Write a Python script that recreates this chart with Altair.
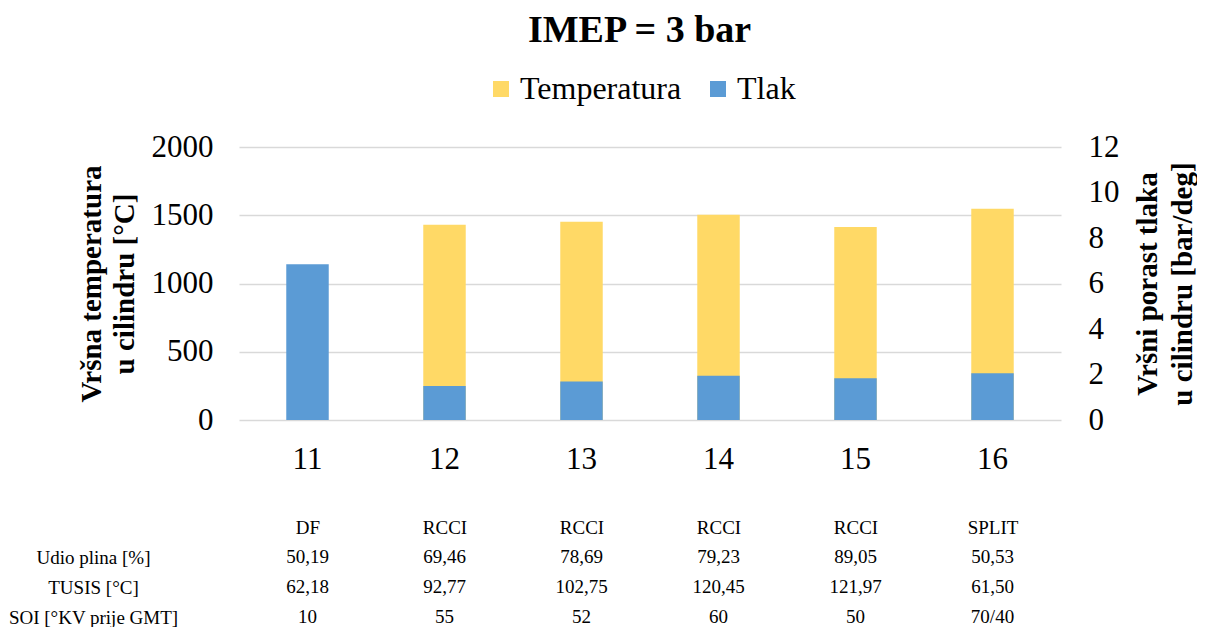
import json
import altair as alt
import pandas as pd

# ---------------- data ----------------
categories = ["11", "12", "13", "14", "15", "16"]
temperatura = [None, 1431, 1453, 1504, 1414, 1547]   # left axis, °C
tlak = [6.85, 1.50, 1.69, 1.94, 1.84, 2.06]            # right axis, bar/deg
series = ["Temperatura", "Tlak"]

modes = ["DF", "RCCI", "RCCI", "RCCI", "RCCI", "SPLIT"]
udio_plina = ["50,19", "69,46", "78,69", "79,23", "89,05", "50,53"]
t_usis = ["62,18", "92,77", "102,75", "120,45", "121,97", "61,50"]
soi = ["10", "55", "52", "60", "50", "70/40"]
row_labels = ["Udio plina [%]", "TUSIS [°C]", "SOI [°KV prije GMT]"]

left_ticks = [0, 500, 1000, 1500, 2000]
right_ticks = [0, 2, 4, 6, 8, 10, 12]

# ---------------- style ----------------
FONT = "Liberation Serif"
YELLOW = "#FFD966"
BLUE = "#5B9BD5"
GRID = "#D9D9D9"
W = 822

bars_df = pd.DataFrame({
    "kat": categories * 2,
    "serija": [series[0]] * len(categories) + [series[1]] * len(categories),
    "vrijednost": temperatura + tlak,
})

rows = []
for r_label, vals in zip(row_labels, [udio_plina, t_usis, soi]):
    for k, v in zip(categories, vals):
        rows.append({"kat": k, "red": r_label, "tekst": v})
table_df = pd.DataFrame(rows)

xscale = alt.Scale(domain=categories, paddingInner=0.69, paddingOuter=0.345)
color_scale = alt.Scale(domain=series, range=[YELLOW, BLUE])

legend = alt.Legend(
    title=None, orient="none", legendX=246, legendY=-74, direction="horizontal",
    symbolType="square", symbolSize=256, symbolStrokeWidth=0, symbolOpacity=1,
    labelFont=FONT, labelFontSize=32, labelColor="black", columnPadding=20,
    labelOffset=3, labelLimit=400,
)

x_main = alt.X(
    "kat:N", scale=xscale, sort=categories,
    axis=alt.Axis(title=None, labelAngle=0, labelFont=FONT, labelFontSize=31,
                  labelColor="black", labelPadding=24, domain=False, ticks=False,
                  grid=False),
)

temp_layer = alt.Chart(bars_df).transform_filter(
    alt.datum.serija == series[0]
).mark_bar().encode(
    x=x_main,
    y=alt.Y(
        "vrijednost:Q", scale=alt.Scale(domain=[0, 2000]),
        axis=alt.Axis(values=left_ticks, format="d",
                      title=["Vršna temperatura", "u cilindru [°C]"],
                      titleFont=FONT, titleFontSize=29, titleFontWeight="bold",
                      titleColor="black", titlePadding=12, titleLineHeight=33,
                      labelFont=FONT, labelFontSize=31, labelColor="black",
                      labelPadding=26, domain=False, ticks=False,
                      gridColor=GRID, gridWidth=1.3),
    ),
    color=alt.Color("serija:N", scale=color_scale, legend=legend),
)

tlak_layer = alt.Chart(bars_df).transform_filter(
    alt.datum.serija == series[1]
).mark_bar().encode(
    x=x_main,
    y=alt.Y(
        "vrijednost:Q", scale=alt.Scale(domain=[0, 12]),
        axis=alt.Axis(orient="right", values=right_ticks, format="d",
                      title=["Vršni porast tlaka", "u cilindru [bar/deg]"],
                      titleAngle=-90, titleBaseline="bottom",
                      titleFont=FONT, titleFontSize=29, titleFontWeight="bold",
                      titleColor="black", titlePadding=8, titleLineHeight=35,
                      labelFont=FONT, labelFontSize=31, labelColor="black",
                      labelAlign="left",
                      labelPadding=27, domain=False, ticks=False, grid=False),
    ),
    color=alt.Color("serija:N", scale=color_scale, legend=legend),
)

top = alt.layer(temp_layer, tlak_layer).resolve_scale(y="independent").properties(
    width=W, height=273
)

mode_map = json.dumps(dict(zip(categories, modes)))

table = alt.Chart(table_df).mark_text(font=FONT, fontSize=19, color="black").encode(
    x=alt.X("kat:N", scale=xscale, sort=categories,
            axis=alt.Axis(orient="top", title=None, labelAngle=0,
                          labelExpr="(" + mode_map + ")[datum.value]",
                          labelFont=FONT, labelFontSize=19, labelColor="black",
                          labelPadding=20, domain=False, ticks=False, grid=False)),
    y=alt.Y("red:N", sort=row_labels,
            scale=alt.Scale(type="point", domain=row_labels, padding=0),
            axis=alt.Axis(title=None, labelAlign="center", labelPadding=146,
                          labelFont=FONT, labelFontSize=19, labelColor="black",
                          domain=False, ticks=False, grid=False)),
    text="tekst:N",
).properties(width=W, height=60)

chart = alt.vconcat(top, table, spacing=44).properties(
    title=alt.TitleParams("IMEP = 3 bar", font=FONT, fontSize=38, fontWeight="bold",
                          color="black", anchor="middle", offset=23, dx=37),
    padding={"left": 0, "right": 0, "top": 4, "bottom": 0},
).configure_view(stroke=None)

chart.save("out.html", embed_options={"renderer": "svg", "actions": False})
